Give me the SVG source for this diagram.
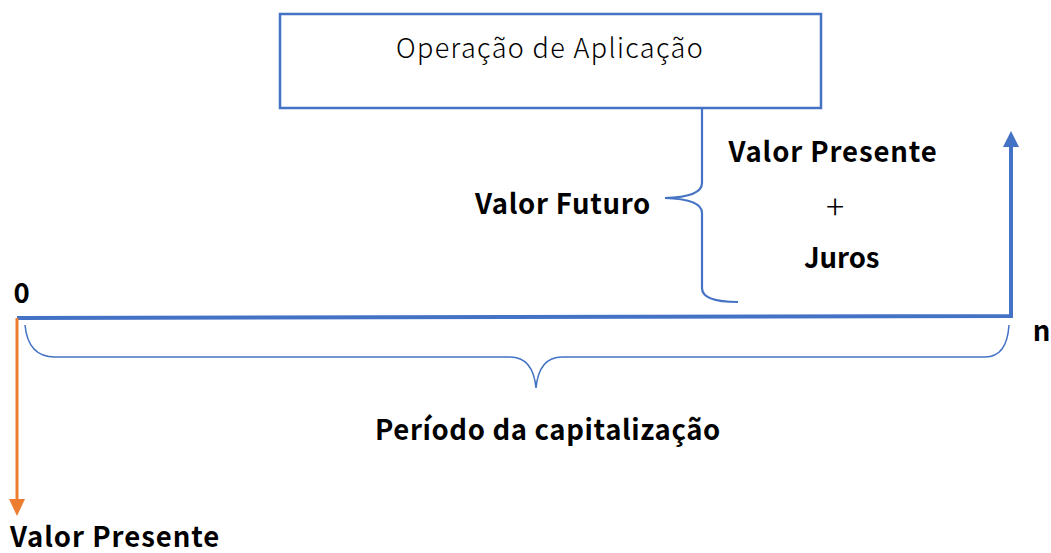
<svg xmlns="http://www.w3.org/2000/svg" width="1051" height="553" viewBox="0 0 1051 553">
<style>
.b{font-family:"Noto Sans CJK JP","Noto Sans","Liberation Sans",sans-serif;font-weight:bold;font-size:27.5px;letter-spacing:0.7px;fill:#000}
.t{font-family:"Noto Sans CJK JP","Noto Sans","Liberation Sans",sans-serif;font-weight:300;font-size:27px;letter-spacing:1.3px;fill:#000}
.brace{fill:none;stroke:#4472C4;stroke-width:2.2}
</style>
<rect width="1051" height="553" fill="#fff"/>
<g id="box">
<rect x="280" y="14" width="541" height="94" fill="#fff" stroke="#4472C4" stroke-width="2.5"/>
<text class="t" x="550" y="58" text-anchor="middle" textLength="308">Operação de Aplicação</text>
</g>
<g id="connectors">
<path d="M17 318 L1011 316 L1011 146" fill="none" stroke="#4472C4" stroke-width="4"/>
<polygon points="1003,147 1011,131 1019,147" fill="#4472C4"/>
<path d="M17 318 L17 500" fill="none" stroke="#ED7D31" stroke-width="3"/>
<polygon points="9,499 17,516 25,499" fill="#ED7D31"/>
<path class="brace" d="M702 109 L702 183 Q702 197 665 198 Q702 199 702 213 L702 288 Q702 302 738 302"/>
<path class="brace" style="stroke-width:1.5" d="M25 325 Q28 357 55 357 L510 357 Q533 357 536 388 Q539 357 562 357 L985 357 Q1007 357 1009 325"/>
</g>
<g id="labels">
<text class="b" x="651" y="214" text-anchor="end" textLength="176">Valor Futuro</text>
<text class="b" x="833" y="162" text-anchor="middle" textLength="209">Valor Presente</text>
<text class="t" x="835" y="219" text-anchor="middle" style="font-size:34px;letter-spacing:0">+</text>
<text class="b" x="842" y="268" text-anchor="middle" textLength="76">Juros</text>
<text class="b" x="22" y="303" text-anchor="middle">0</text>
<text class="b" x="1042" y="341" text-anchor="middle">n</text>
<text class="b" x="548" y="440" text-anchor="middle" textLength="346">Período da capitalização</text>
<text class="b" x="10" y="547" textLength="210">Valor Presente</text>
</g>
</svg>
